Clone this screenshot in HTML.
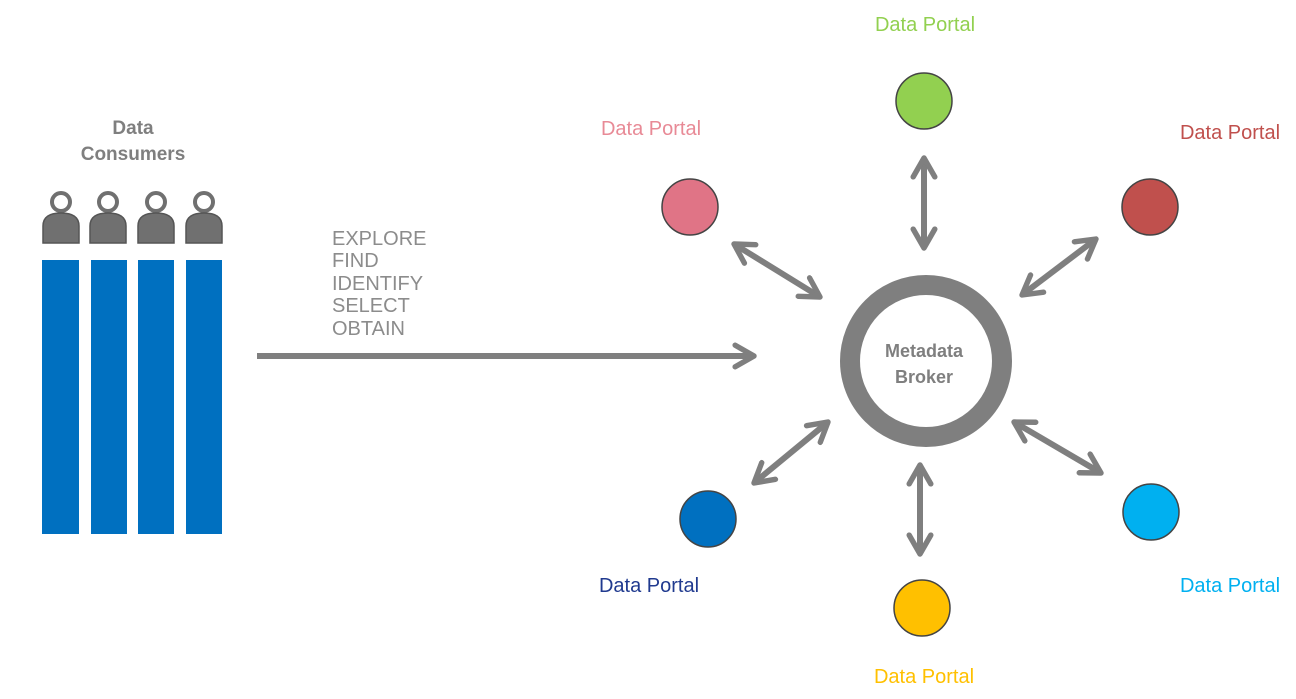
<!DOCTYPE html>
<html><head><style>
html,body{margin:0;padding:0;background:#fff;width:1296px;height:699px;overflow:hidden}
svg{display:block}
text{font-family:"Liberation Sans",sans-serif}
</style></head><body>
<svg width="1296" height="699" viewBox="0 0 1296 699">
<defs>
<marker id="h" viewBox="0 0 10 10" refX="8" refY="5" markerWidth="4.5" markerHeight="4.5" orient="auto-start-reverse" markerUnits="strokeWidth">
<polyline points="1,1 8,5 1,9" fill="none" stroke="#7f7f7f" stroke-width="2" stroke-linecap="round" stroke-linejoin="round"/>
</marker>
</defs>
<text x="133" y="134" font-size="19" font-weight="bold" fill="#7f7f7f" text-anchor="middle">Data</text>
<text x="133" y="160" font-size="19" font-weight="bold" fill="#7f7f7f" text-anchor="middle">Consumers</text>
<g fill="#707070" stroke="#555" stroke-width="1.5">
<g id="p"><circle cx="61" cy="202" r="9" fill="#fff" stroke="#707070" stroke-width="4"/><path d="M43 243 V226 Q43 213 61 213 Q79 213 79 226 V243 Z"/></g>
<use href="#p" x="47"/><use href="#p" x="95"/><use href="#p" x="143"/>
</g>
<g fill="#0070c0">
<rect x="42" y="260" width="37" height="274"/>
<rect x="91" y="260" width="36" height="274"/>
<rect x="138" y="260" width="36" height="274"/>
<rect x="186" y="260" width="36" height="274"/>
</g>
<g font-size="20" fill="#8c8c8c">
<text x="332" y="245">EXPLORE</text>
<text x="332" y="267">FIND</text>
<text x="332" y="290">IDENTIFY</text>
<text x="332" y="312">SELECT</text>
<text x="332" y="335">OBTAIN</text>
</g>
<g stroke="#7f7f7f" stroke-width="6" fill="none">
<line x1="257" y1="356" x2="754" y2="356" marker-end="url(#h)"/>
<line x1="924" y1="158" x2="924" y2="248" marker-start="url(#h)" marker-end="url(#h)"/>
<line x1="734" y1="244" x2="820" y2="297" marker-start="url(#h)" marker-end="url(#h)"/>
<line x1="1096" y1="239" x2="1022" y2="295" marker-start="url(#h)" marker-end="url(#h)"/>
<line x1="754" y1="483" x2="828" y2="422" marker-start="url(#h)" marker-end="url(#h)"/>
<line x1="920" y1="465" x2="920" y2="554" marker-start="url(#h)" marker-end="url(#h)"/>
<line x1="1014" y1="422" x2="1101" y2="473" marker-start="url(#h)" marker-end="url(#h)"/>
<circle cx="926" cy="361" r="76" stroke-width="20"/>
</g>
<text x="924" y="357" font-size="18" font-weight="bold" fill="#7f7f7f" text-anchor="middle">Metadata</text>
<text x="924" y="383" font-size="18" font-weight="bold" fill="#7f7f7f" text-anchor="middle">Broker</text>
<g stroke="#444" stroke-width="1.5">
<circle cx="690" cy="207" r="28" fill="#e07486"/>
<circle cx="924" cy="101" r="28" fill="#92d050"/>
<circle cx="1150" cy="207" r="28" fill="#c0504d"/>
<circle cx="708" cy="519" r="28" fill="#0070c0"/>
<circle cx="922" cy="608" r="28" fill="#ffc000"/>
<circle cx="1151" cy="512" r="28" fill="#00b0f0"/>
</g>
<g font-size="20" text-anchor="middle">
<text x="651" y="135" fill="#e88a96">Data Portal</text>
<text x="925" y="31" fill="#92d050">Data Portal</text>
<text x="1230" y="139" fill="#c0504d">Data Portal</text>
<text x="649" y="592" fill="#203a8f">Data Portal</text>
<text x="924" y="683" fill="#ffc000">Data Portal</text>
<text x="1230" y="592" fill="#00b0f0">Data Portal</text>
</g>
</svg>
</body></html>
